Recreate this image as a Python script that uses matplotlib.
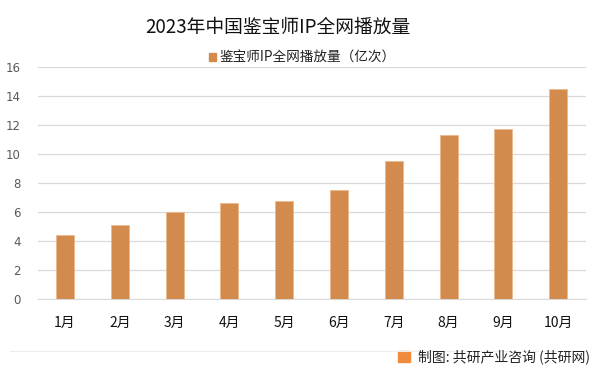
import matplotlib
matplotlib.use("Agg")
import matplotlib.pyplot as plt
from matplotlib.patches import Rectangle

plt.rcParams["font.family"] = ["Noto Sans CJK SC", "DejaVu Sans"]

months = ["1月", "2月", "3月", "4月", "5月", "6月", "7月", "8月", "9月", "10月"]
views = [4.4, 5.1, 6.0, 6.6, 6.75, 7.5, 9.5, 11.3, 11.7, 14.5]
yticks = [0, 2, 4, 6, 8, 10, 12, 14, 16]

title = "2023年中国鉴宝师IP全网播放量"
series_name = "鉴宝师IP全网播放量（亿次）"
source = "制图: 共研产业咨询 (共研网)"

bar_color = "#D38B4D"

fig = plt.figure(figsize=(5.99, 3.74), dpi=100)

ax = fig.add_axes([0.0628, 0.2005, 0.9148, 0.6203])
x = range(len(months))
ax.bar(x, views, width=0.33, color=bar_color, edgecolor="#EDB98C", linewidth=0.6, zorder=3)

ax.set_xlim(-0.5, len(months) - 0.5)
ax.set_ylim(0, 16)
ax.set_yticks(yticks)
ax.set_yticklabels([str(t) for t in yticks], fontsize=8.5, color="#595959",
                   family=["DejaVu Sans"])
ax.set_xticks(list(x))
ax.set_xticklabels(months, fontsize=10, color="#111111")
ax.tick_params(axis="both", length=0)
ax.tick_params(axis="x", pad=12)
ax.tick_params(axis="y", pad=12)
ax.grid(axis="y", color="#d9d9d9", linewidth=0.9, zorder=0)
for s in ["top", "right", "left"]:
    ax.spines[s].set_visible(False)
ax.spines["bottom"].set_color("#d9d9d9")

fig.text(0.463, 0.928, title, fontsize=13.5, ha="center", va="center", color="#111111")

# legend
fig.patches.append(Rectangle((0.349, 0.838), 0.012, 0.019, transform=fig.transFigure,
                             color=bar_color, figure=fig))
fig.text(0.366, 0.847, series_name, fontsize=9.8, ha="left", va="center", color="#222222")

# bottom line and footer
fig.add_artist(plt.Line2D([0.017, 0.978], [0.062, 0.062], color="#eeeeee", linewidth=0.8))
fig.patches.append(Rectangle((0.664, 0.032), 0.02, 0.03, transform=fig.transFigure,
                             color="#F08A3C", figure=fig))
fig.text(0.697, 0.046, source, fontsize=10, ha="left", va="center", color="#222222")

plt.savefig("out.png", dpi=100)
plt.close()
